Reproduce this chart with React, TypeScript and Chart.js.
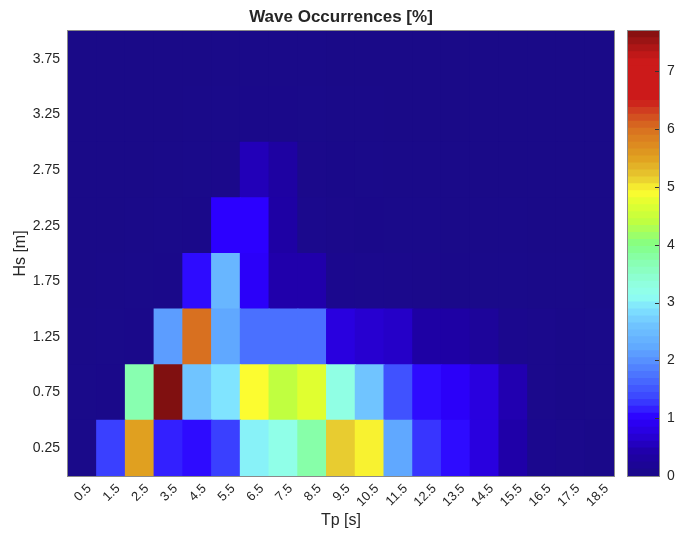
import React, { useEffect, useRef } from "react";
import { Chart, registerables } from "chart.js";

Chart.register(...registerables);

// ---- Data ----
const TP_LABELS = ["0.5", "1.5", "2.5", "3.5", "4.5", "5.5", "6.5", "7.5", "8.5", "9.5", "10.5", "11.5", "12.5", "13.5", "14.5", "15.5", "16.5", "17.5", "18.5"];
const HS_CENTERS = [0.25, 0.75, 1.25, 1.75, 2.25, 2.75, 3.25, 3.75];
const HS_HALF_BIN = 0.25;
const HS_MIN = 0;
const HS_MAX = 4;

// Occurrence [%] per Tp column, one array per Hs bin
const OCC_HS_025 = [0.02, 1.3, 5.5, 1.15, 1.05, 1.3, 3.0, 3.2, 3.75, 5.15, 4.95, 2.2, 1.25, 1.05, 0.75, 0.4, 0.08, 0.05, 0.03];
const OCC_HS_075 = [0.02, 0.03, 3.7, 7.7, 2.6, 2.9, 4.9, 4.4, 4.7, 3.25, 2.6, 1.45, 1.05, 0.95, 0.75, 0.45, 0.05, 0.03, 0.02];
const OCC_HS_125 = [0.01, 0.02, 0.03, 2.1, 6.0, 2.2, 1.7, 1.7, 1.7, 0.75, 0.65, 0.6, 0.35, 0.35, 0.22, 0.08, 0.05, 0.03, 0.02];
const OCC_HS_175 = [0.0, 0.01, 0.02, 0.03, 1.05, 2.4, 0.95, 0.42, 0.42, 0.08, 0.06, 0.05, 0.04, 0.03, 0.02, 0.02, 0.01, 0.01, 0.0];
const OCC_HS_225 = [0.0, 0.0, 0.01, 0.02, 0.03, 1.0, 1.0, 0.35, 0.06, 0.04, 0.03, 0.02, 0.02, 0.01, 0.01, 0.01, 0.0, 0.0, 0.0];
const OCC_HS_275 = [0.0, 0.0, 0.0, 0.01, 0.02, 0.04, 0.5, 0.33, 0.04, 0.03, 0.02, 0.01, 0.01, 0.01, 0.0, 0.0, 0.0, 0.0, 0.0];
const OCC_HS_325 = [0.0, 0.0, 0.0, 0.0, 0.01, 0.02, 0.03, 0.03, 0.02, 0.01, 0.01, 0.0, 0.0, 0.0, 0.0, 0.0, 0.0, 0.0, 0.0];
const OCC_HS_375 = [0.0, 0.0, 0.0, 0.0, 0.0, 0.01, 0.01, 0.01, 0.01, 0.0, 0.0, 0.0, 0.0, 0.0, 0.0, 0.0, 0.0, 0.0, 0.0];
const OCCURRENCES = [OCC_HS_025, OCC_HS_075, OCC_HS_125, OCC_HS_175, OCC_HS_225, OCC_HS_275, OCC_HS_325, OCC_HS_375];

const CB_TICKS = [0, 1, 2, 3, 4, 5, 6, 7];
const CB_MAX = 7.7;
const CB_LEVELS = 64;

// ---- Styling ----
const FONT = '"Liberation Sans", Arial, Helvetica, sans-serif';
const TEXT = "#262626";
const FRAME = "#8a8a8a";

const CMAP_STOPS: [number, string][] = [
  [0.0, "#1a0a88"],
  [0.4, "#1f00a8"],
  [0.7, "#2800d8"],
  [1.0, "#2c00ff"],
  [1.3, "#3a40ff"],
  [1.7, "#4a70ff"],
  [2.2, "#60a8ff"],
  [2.6, "#70c4ff"],
  [2.9, "#80e4ff"],
  [3.1, "#90fff0"],
  [3.3, "#90ffe0"],
  [3.7, "#88ffb0"],
  [4.0, "#84ff84"],
  [4.4, "#c0ff40"],
  [4.7, "#e0ff30"],
  [4.9, "#fcfc30"],
  [5.15, "#e8cc30"],
  [5.5, "#e0a020"],
  [6.0, "#d87020"],
  [6.3, "#d04020"],
  [6.5, "#cc1a1a"],
  [7.2, "#cc1a1a"],
  [7.7, "#801010"],
];

function hexToRgb(h: string): number[] {
  const n = parseInt(h.slice(1), 16);
  return [(n >> 16) & 255, (n >> 8) & 255, n & 255];
}

function colorFor(v: number): string {
  if (v <= CMAP_STOPS[0][0]) return CMAP_STOPS[0][1];
  for (let i = 1; i < CMAP_STOPS.length; i++) {
    const [v1, c1] = CMAP_STOPS[i];
    if (v <= v1) {
      const [v0, c0] = CMAP_STOPS[i - 1];
      const t = (v - v0) / (v1 - v0);
      const a = hexToRgb(c0);
      const b = hexToRgb(c1);
      const m = a.map((x, k) => Math.round(x + (b[k] - x) * t));
      return `rgb(${m[0]},${m[1]},${m[2]})`;
    }
  }
  return CMAP_STOPS[CMAP_STOPS.length - 1][1];
}

const framePlugin = {
  id: "frame",
  afterDraw(chart: any) {
    const { ctx, chartArea } = chart;
    ctx.save();
    ctx.strokeStyle = FRAME;
    ctx.lineWidth = 1;
    ctx.strokeRect(
      Math.round(chartArea.left) - 0.5,
      Math.round(chartArea.top) - 0.5,
      Math.round(chartArea.right - chartArea.left) + 1,
      Math.round(chartArea.bottom - chartArea.top) + 1
    );
    ctx.restore();
  },
};

const titlePlugin = {
  id: "centerTitle",
  afterDraw(chart: any) {
    const { ctx, chartArea } = chart;
    ctx.save();
    ctx.fillStyle = TEXT;
    ctx.font = `bold 17px ${FONT}`;
    ctx.textAlign = "center";
    ctx.textBaseline = "middle";
    ctx.fillText("Wave Occurrences [%]", (chartArea.left + chartArea.right) / 2, 17);
    ctx.restore();
  },
};

const cbTickPlugin = {
  id: "cbTicks",
  afterDraw(chart: any) {
    const { ctx, chartArea } = chart;
    const y = chart.scales.y;
    ctx.save();
    ctx.strokeStyle = "#333";
    ctx.lineWidth = 1;
    CB_TICKS.forEach((t) => {
      if (t === 0) return;
      const py = Math.round(y.getPixelForValue(t)) + 0.5;
      ctx.beginPath();
      ctx.moveTo(chartArea.right - 4, py);
      ctx.lineTo(chartArea.right, py);
      ctx.stroke();
    });
    ctx.restore();
  },
};

export default function App() {
  const mainRef = useRef<HTMLCanvasElement>(null);
  const cbRef = useRef<HTMLCanvasElement>(null);

  useEffect(() => {
    const datasets = HS_CENTERS.map((hs, r) => ({
      label: `Hs ${hs}`,
      data: OCCURRENCES[r].map(() => [hs - HS_HALF_BIN, hs + HS_HALF_BIN]),
      backgroundColor: OCCURRENCES[r].map((v) => colorFor(v)),
      borderWidth: 0,
      borderSkipped: false,
      inflateAmount: 0.6,
      grouped: false,
      barPercentage: 1,
      categoryPercentage: 1,
    }));

    const main = new Chart(mainRef.current as HTMLCanvasElement, {
      type: "bar",
      data: { labels: TP_LABELS, datasets },
      options: {
        animation: false,
        responsive: false,
        maintainAspectRatio: false,
        layout: { padding: { top: 31, right: 82, left: 0, bottom: 0 } },
        plugins: { legend: { display: false }, tooltip: { enabled: false }, title: { display: false } },
        scales: {
          x: {
            type: "category",
            offset: true,
            grid: { display: false, drawTicks: false },
            border: { display: false },
            ticks: {
              color: TEXT,
              font: { family: FONT, size: 13 },
              maxRotation: 45,
              minRotation: 45,
              autoSkip: false,
              labelOffset: 7,
              padding: 5,
            },
            title: {
              display: true,
              text: "Tp [s]",
              color: TEXT,
              font: { family: FONT, size: 16 },
              padding: { top: 0, bottom: 5 },
            },
            afterFit: (s: any) => {
              s.height = 59;
            },
          },
          y: {
            type: "linear",
            min: HS_MIN,
            max: HS_MAX,
            grid: { display: false, drawTicks: false },
            border: { display: false },
            afterBuildTicks: (s: any) => {
              s.ticks = HS_CENTERS.map((v) => ({ value: v }));
            },
            ticks: {
              color: TEXT,
              font: { family: FONT, size: 14 },
              padding: 8,
              callback: (v: any) => Number(v).toFixed(2),
            },
            title: {
              display: true,
              text: "Hs [m]",
              color: TEXT,
              font: { family: FONT, size: 16 },
              padding: { top: 11, bottom: 0 },
            },
            afterFit: (s: any) => {
              s.width = 68;
            },
          },
        },
      },
      plugins: [framePlugin, titlePlugin],
    });

    const step = CB_MAX / CB_LEVELS;
    const levels = Array.from({ length: CB_LEVELS }, (_, i) => i);
    const cbDatasets = levels.map((i) => ({
      label: `lvl${i}`,
      data: [[i * step, (i + 1) * step]],
      backgroundColor: colorFor((i + 0.5) * step),
      borderWidth: 0,
      borderSkipped: false,
      inflateAmount: 0.6,
      grouped: false,
      barPercentage: 1,
      categoryPercentage: 1,
    }));

    const cb = new Chart(cbRef.current as HTMLCanvasElement, {
      type: "bar",
      data: { labels: ["cb"], datasets: cbDatasets },
      options: {
        animation: false,
        responsive: false,
        maintainAspectRatio: false,
        layout: { padding: { top: 31, left: 28, right: 0, bottom: 59 } },
        plugins: { legend: { display: false }, tooltip: { enabled: false } },
        scales: {
          x: { display: false, offset: true },
          y: {
            type: "linear",
            position: "right",
            min: 0,
            max: CB_MAX,
            grid: { display: false, drawTicks: false },
            border: { display: false },
            afterBuildTicks: (s: any) => {
              s.ticks = CB_TICKS.map((v) => ({ value: v }));
            },
            ticks: {
              color: TEXT,
              font: { family: FONT, size: 14 },
              padding: 8,
            },
            afterFit: (s: any) => {
              s.width = 37;
            },
          },
        },
      },
      plugins: [framePlugin, cbTickPlugin],
    });

    return () => {
      main.destroy();
      cb.destroy();
    };
  }, []);

  return (
    <div style={{ position: "fixed", left: 0, top: 0, width: 696, height: 535, background: "#ffffff" }}>
      <canvas ref={mainRef} width={696} height={535} style={{ position: "absolute", left: 0, top: 0 }} />
      <canvas ref={cbRef} width={96} height={535} style={{ position: "absolute", left: 600, top: 0 }} />
    </div>
  );
}
